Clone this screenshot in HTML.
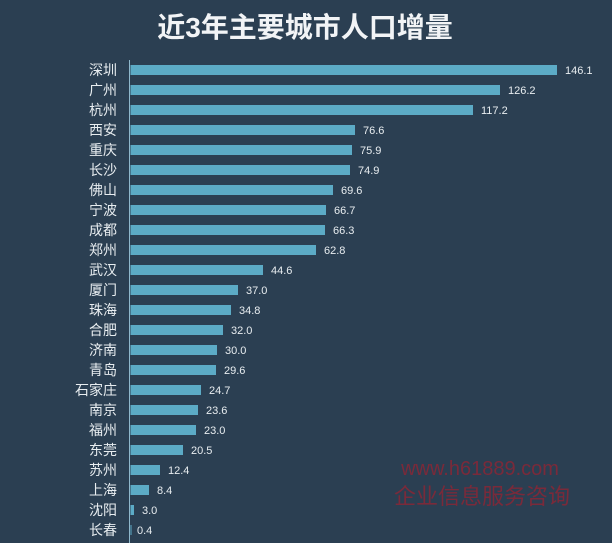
<!DOCTYPE html>
<html><head><meta charset="utf-8"><style>
html,body{margin:0;padding:0;background:#2b3f52;}
svg{display:block}
text{font-family:"Liberation Sans","Noto Sans CJK SC",sans-serif;}
.l{font-size:14px;fill:#e8edf0;text-anchor:end}
.v{font-size:11px;fill:#e8edf0}
rect.b{fill:#5cabc6}
</style></head><body>
<svg width="612" height="543" viewBox="0 0 612 543" xmlns="http://www.w3.org/2000/svg">
<rect width="612" height="543" fill="#2b3f52"/>
<text x="305" y="37" text-anchor="middle" font-size="28" font-weight="bold" fill="#f2f4f6">近3年主要城市人口增量</text>
<line x1="129.5" y1="60" x2="129.5" y2="543" stroke="#8fb8cc" stroke-width="1"/>
<text class="l" x="117" y="75">深圳</text><rect class="b" x="130.5" y="65" width="426.5" height="10"/><text class="v" x="565" y="74">146.1</text>
<text class="l" x="117" y="95">广州</text><rect class="b" x="130.5" y="85" width="369.5" height="10"/><text class="v" x="508" y="94">126.2</text>
<text class="l" x="117" y="115">杭州</text><rect class="b" x="130.5" y="105" width="342.5" height="10"/><text class="v" x="481" y="114">117.2</text>
<text class="l" x="117" y="135">西安</text><rect class="b" x="130.5" y="125" width="224.5" height="10"/><text class="v" x="363" y="134">76.6</text>
<text class="l" x="117" y="155">重庆</text><rect class="b" x="130.5" y="145" width="221.5" height="10"/><text class="v" x="360" y="154">75.9</text>
<text class="l" x="117" y="175">长沙</text><rect class="b" x="130.5" y="165" width="219.5" height="10"/><text class="v" x="358" y="174">74.9</text>
<text class="l" x="117" y="195">佛山</text><rect class="b" x="130.5" y="185" width="202.5" height="10"/><text class="v" x="341" y="194">69.6</text>
<text class="l" x="117" y="215">宁波</text><rect class="b" x="130.5" y="205" width="195.5" height="10"/><text class="v" x="334" y="214">66.7</text>
<text class="l" x="117" y="235">成都</text><rect class="b" x="130.5" y="225" width="194.5" height="10"/><text class="v" x="333" y="234">66.3</text>
<text class="l" x="117" y="255">郑州</text><rect class="b" x="130.5" y="245" width="185.5" height="10"/><text class="v" x="324" y="254">62.8</text>
<text class="l" x="117" y="275">武汉</text><rect class="b" x="130.5" y="265" width="132.5" height="10"/><text class="v" x="271" y="274">44.6</text>
<text class="l" x="117" y="295">厦门</text><rect class="b" x="130.5" y="285" width="107.5" height="10"/><text class="v" x="246" y="294">37.0</text>
<text class="l" x="117" y="315">珠海</text><rect class="b" x="130.5" y="305" width="100.5" height="10"/><text class="v" x="239" y="314">34.8</text>
<text class="l" x="117" y="335">合肥</text><rect class="b" x="130.5" y="325" width="92.5" height="10"/><text class="v" x="231" y="334">32.0</text>
<text class="l" x="117" y="355">济南</text><rect class="b" x="130.5" y="345" width="86.5" height="10"/><text class="v" x="225" y="354">30.0</text>
<text class="l" x="117" y="375">青岛</text><rect class="b" x="130.5" y="365" width="85.5" height="10"/><text class="v" x="224" y="374">29.6</text>
<text class="l" x="117" y="395">石家庄</text><rect class="b" x="130.5" y="385" width="70.5" height="10"/><text class="v" x="209" y="394">24.7</text>
<text class="l" x="117" y="415">南京</text><rect class="b" x="130.5" y="405" width="67.5" height="10"/><text class="v" x="206" y="414">23.6</text>
<text class="l" x="117" y="435">福州</text><rect class="b" x="130.5" y="425" width="65.5" height="10"/><text class="v" x="204" y="434">23.0</text>
<text class="l" x="117" y="455">东莞</text><rect class="b" x="130.5" y="445" width="52.5" height="10"/><text class="v" x="191" y="454">20.5</text>
<text class="l" x="117" y="475">苏州</text><rect class="b" x="130.5" y="465" width="29.5" height="10"/><text class="v" x="168" y="474">12.4</text>
<text class="l" x="117" y="495">上海</text><rect class="b" x="130.5" y="485" width="18.5" height="10"/><text class="v" x="157" y="494">8.4</text>
<text class="l" x="117" y="515">沈阳</text><rect class="b" x="130.5" y="505" width="3.5" height="10"/><text class="v" x="142" y="514">3.0</text>
<text class="l" x="117" y="535">长春</text><rect class="b" x="130.5" y="525" width="1" height="10"/><text class="v" x="137" y="534">0.4</text>
<text x="480" y="475" text-anchor="middle" font-size="20" fill="#7a2a3a" font-family="Liberation Serif,serif">www.h61889.com</text>
<text x="482" y="504" text-anchor="middle" font-size="22" fill="#7a2a3a" font-family="'Noto Serif CJK SC',serif">企业信息服务咨询</text>
</svg>
</body></html>
